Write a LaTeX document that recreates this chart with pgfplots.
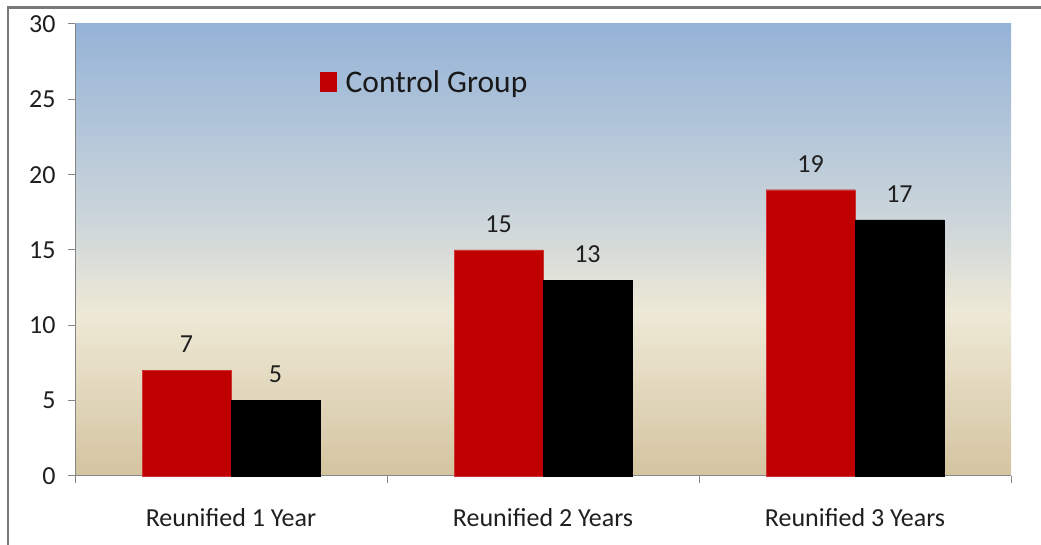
\documentclass[border=0pt]{standalone}
\usepackage{pgfplots}
\pgfplotsset{compat=1.18}
\usepackage{fontspec}
\setmainfont{Carlito}
\definecolor{barred}{HTML}{C00000}
\definecolor{axgrey}{HTML}{868686}
\definecolor{bgtop}{HTML}{95B3D7}
\definecolor{bgupper}{HTML}{CDD6DA}
\definecolor{bgmid}{HTML}{EEE9D6}
\definecolor{bgbot}{HTML}{D4C4A0}
\pgfdeclareverticalshading{bgshade}{100bp}{%
  color(0bp)=(bgbot); color(25bp)=(bgbot); color(43bp)=(bgmid);
  color(53bp)=(bgupper); color(75bp)=(bgtop); color(100bp)=(bgtop)}
\begin{document}
\begin{tikzpicture}
\useasboundingbox (0,0) rectangle (1041pt,545pt);
\draw[axgrey!90!black, line width=2.5pt] (8pt,0pt) -- (8pt,537.5pt) -- (1041pt,537.5pt);
\begin{axis}[
  at={(75pt,69pt)}, anchor=south west,
  width=936pt, height=452pt, scale only axis,
  xmin=-0.5, xmax=2.5, ymin=0, ymax=30,
  ytick={0,5,...,30},
  xtick={0,1,2},
  xticklabels={Reunified 1 Year, Reunified 2 Years, Reunified 3 Years},
  minor xtick={-0.5,0.5,1.5,2.5},
  major x tick style={draw=none},
  minor tick length=7pt, major tick length=7pt,
  tick align=outside,
  axis x line*=bottom, axis y line*=left,
  axis line style={axgrey, line width=1pt, -},
  tick style={axgrey, line width=1pt},
  axis background/.style={shading=bgshade},
  /pgf/number format/assume math mode=true,
  ticklabel style={font=\fontsize{26}{30}\selectfont, text=black!88},
  yticklabel style={xshift=-9pt},
  xticklabel style={yshift=-22pt},
  ybar=0pt, bar width=0.285,
  nodes near coords,
  every node near coord/.append style={font=\fontsize{26}{30}\selectfont, text=black!88, yshift=14pt},
  legend entries={Control Group},
  legend style={draw=none, fill=none, at={(0.2618,0.8717)}, anchor=west,
    inner sep=0pt, font=\fontsize{31.5}{35}\selectfont, text=black!90,
    legend cell align=left},
  legend image code/.code={\fill[barred] (0pt,-9.5pt) rectangle (16pt,9.5pt); \path (23pt,0pt);},
  clip=false,
]
\addplot[fill=barred, draw=barred!80!white, bar shift=-0.1425] coordinates {(0,7) (1,15) (2,19)};
\addplot[fill=black, draw=black, bar shift=0.1425] coordinates {(0,5) (1,13) (2,17)};
\end{axis}
\end{tikzpicture}
\end{document}
